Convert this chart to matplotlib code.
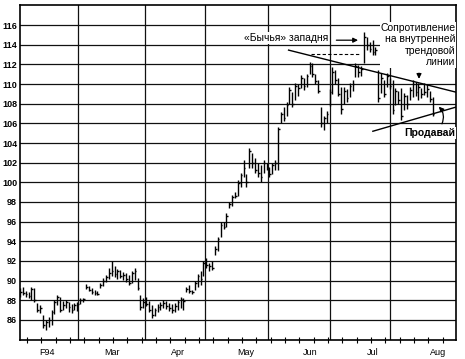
import numpy as np
import matplotlib
matplotlib.use("Agg")
import matplotlib.pyplot as plt

# ---- data (HLC bars, one per trading day) ----
highs = [89.2, 89.3, 88.9, 88.8, 89.3, 89.2, 87.7, 87.5, 86.5, 86.0,
         86.3, 87.0, 88.0, 88.5, 88.3, 87.9, 88.0, 87.8, 87.6, 87.7,
         87.8, 88.2, 88.2, 89.7, 89.4, 89.2, 89.0, 88.9, 89.8, 90.3,
         90.6, 91.3, 92.0, 91.5, 91.2, 91.1, 90.9, 90.8, 90.6, 91.0,
         91.3, 90.3, 88.5, 88.2, 88.3, 87.9, 87.5, 87.2, 87.6, 87.8,
         88.0, 87.9, 87.7, 87.6, 87.7, 88.0, 88.3, 88.2, 89.3, 89.5,
         89.0, 90.0, 90.7, 91.0, 92.0, 92.3, 91.8, 92.0, 93.5, 94.4,
         96.0, 96.0, 96.9, 98.0, 98.7, 99.0, 100.2, 101.0, 102.3, 100.8,
         103.5, 103.0, 102.5, 102.0, 101.8, 102.3, 102.0, 101.6, 102.0, 102.3,
         105.6, 107.2, 107.7, 108.2, 109.7, 109.2, 110.1, 110.0, 110.9, 110.6,
         111.0, 112.2, 112.1, 111.0, 110.4, 107.7, 106.8, 107.3, 109.5, 111.7,
         111.4, 110.6, 109.7, 109.7, 109.5, 110.1, 110.4, 112.1, 111.9, 111.8,
         115.3, 114.8, 114.3, 114.5, 113.8, 111.4, 111.1, 110.4, 111.1, 110.6,
         110.4, 109.6, 109.3, 109.6, 109.1, 108.9, 109.7, 110.4, 110.2, 110.1,
         109.6, 110.1, 110.0, 109.3, 108.7]
lows = [88.3, 88.5, 88.3, 88.2, 88.0, 87.8, 86.8, 86.7, 85.2, 85.0,
        85.3, 85.5, 86.6, 87.5, 86.8, 87.0, 87.2, 86.8, 86.7, 87.0,
        86.9, 87.6, 87.8, 89.1, 88.9, 88.6, 88.5, 88.5, 89.2, 89.4,
        89.9, 90.2, 90.5, 90.4, 90.2, 90.3, 90.1, 89.9, 89.5, 89.8,
        90.1, 89.0, 87.0, 87.2, 87.4, 86.8, 86.2, 86.4, 86.8, 87.0,
        87.2, 87.1, 86.9, 86.7, 86.8, 87.0, 87.2, 87.0, 88.8, 88.7,
        88.6, 89.0, 89.3, 89.6, 90.5, 91.3, 91.0, 91.1, 92.6, 93.0,
        94.4, 95.2, 95.5, 97.4, 97.6, 98.4, 98.6, 99.5, 100.5, 99.5,
        101.5, 101.5, 101.0, 100.5, 100.0, 101.0, 101.3, 100.5, 100.8, 101.3,
        101.3, 106.0, 106.2, 106.8, 108.0, 107.7, 108.4, 108.8, 109.6, 109.4,
        109.7, 111.0, 110.7, 110.0, 109.1, 105.6, 105.3, 106.0, 107.8, 109.0,
        110.0, 108.8, 107.0, 108.0, 108.2, 108.7, 109.3, 110.7, 110.7, 110.8,
        112.1, 113.5, 113.3, 113.0, 113.0, 108.2, 109.1, 108.7, 109.7, 109.5,
        107.0, 107.9, 108.0, 106.3, 107.4, 107.5, 108.4, 108.7, 108.8, 108.4,
        108.6, 108.9, 108.7, 108.2, 106.8]
closes = [88.8, 88.7, 88.6, 88.4, 89.1, 88.0, 87.0, 87.2, 85.5, 85.8,
          86.0, 86.8, 87.8, 88.3, 87.0, 87.5, 87.8, 87.3, 87.0, 87.5,
          87.6, 88.0, 88.1, 89.3, 89.0, 88.8, 88.7, 88.6, 89.6, 90.0,
          90.4, 90.8, 91.0, 90.7, 91.0, 90.5, 90.6, 90.2, 89.8, 90.8,
          91.0, 89.2, 87.3, 87.8, 87.6, 87.0, 86.5, 87.0, 87.3, 87.5,
          87.7, 87.4, 87.2, 87.0, 87.4, 87.8, 88.1, 87.9, 89.1, 88.9,
          88.8, 89.8, 90.5, 90.2, 91.8, 91.6, 91.5, 91.3, 93.2, 94.2,
          95.7, 95.5, 96.6, 97.8, 98.5, 98.6, 99.9, 100.7, 101.5, 100.0,
          103.2, 102.0, 101.3, 101.0, 100.5, 102.0, 101.6, 100.8, 101.8, 102.0,
          105.4, 107.0, 106.5, 107.9, 109.4, 108.0, 109.8, 109.6, 110.6, 109.8,
          110.8, 111.8, 111.0, 110.3, 109.3, 106.0, 106.5, 107.0, 109.2, 111.2,
          110.4, 109.0, 107.5, 109.3, 108.6, 109.8, 110.0, 111.8, 111.2, 111.5,
          114.8, 114.0, 113.6, 113.3, 113.5, 108.6, 110.6, 109.0, 110.8, 109.8,
          107.4, 109.3, 108.4, 106.8, 108.8, 108.0, 109.4, 110.0, 109.2, 109.7,
          109.0, 109.2, 109.5, 108.5, 107.0]

month_labels = ["F94", "Mar", "Apr", "May", "Jun", "Jul", "Aug"]
month_pos = [9.4, 32.2, 55.2, 78.7, 101.4, 123.0, 145.8]
vgrid_pos = [20.3, 43.7, 64.7, 86.4, 108.0, 129.0]
yticks = list(range(86, 117, 2))

# trend lines / annotations (day, price)
upper_line = ([93.7, 152.1], [113.46, 109.18])
lower_line = ([123.1, 152.1], [105.2, 107.66])
trap_level = ([101.4, 118.9], [113.05, 113.05])

days = np.arange(len(highs))

fig = plt.figure(figsize=(4.65, 3.59), dpi=100)
ax = fig.add_axes([0.043, 0.0529, 0.9376, 0.9331])
ax.set_xlim(0, 152.1)
ax.set_ylim(83.95, 118.05)

for y in yticks:
    ax.axhline(y, color="#111111", lw=0.9, zorder=1)
for x in vgrid_pos:
    ax.axvline(x, color="#111111", lw=0.9, zorder=1)

ax.vlines(days, lows, highs, color="black", lw=1.0, zorder=3)
ax.hlines(closes, days, days + 0.6, color="black", lw=1.0, zorder=3)

ax.plot(*upper_line, color="black", lw=1.0, zorder=4)
ax.plot(*lower_line, color="black", lw=1.0, zorder=4)
ax.plot(*trap_level, color="black", lw=0.8, ls=(0, (3, 2)), zorder=4)

fam = ["Liberation Sans", "DejaVu Sans"]
ax.text(92.7, 114.68, "«Бычья» западня", ha="center", va="center",
        fontsize=7.5, family=fam, zorder=5,
        bbox=dict(fc="white", ec="none", pad=0.5))
ax.annotate("", xy=(118.9, 114.47), xytext=(109.4, 114.47),
            arrowprops=dict(arrowstyle="-|>", color="black", lw=0.9,
                            mutation_scale=7), zorder=5)
ax.text(152.0, 116.2, "Сопротивление\nна внутренней\nтрендовой\nлинии",
        ha="right", va="top", fontsize=7.5, family=fam, linespacing=1.15,
        zorder=5, bbox=dict(fc="white", ec="none", pad=0.5))
ax.annotate("", xy=(139.2, 110.25), xytext=(139.2, 111.4),
            arrowprops=dict(arrowstyle="-|>", color="black", lw=0.9,
                            mutation_scale=7), zorder=5)
ax.text(152.0, 105.0, "Продавай", ha="right", va="center", fontsize=7.5,
        fontweight="bold", family=fam, zorder=5,
        bbox=dict(fc="white", ec="none", pad=0.5))
ax.annotate("", xy=(145.4, 107.9), xytext=(146.8, 105.7),
            arrowprops=dict(arrowstyle="-|>", color="black", lw=0.9,
                            mutation_scale=7,
                            connectionstyle="arc3,rad=0.4"), zorder=5)

ax.set_yticks(yticks)
ax.set_yticklabels([str(v) for v in yticks], fontsize=6.5, fontweight="bold",
                   family=fam)
ax.tick_params(axis="y", length=0, pad=2)
ax.set_xticks(month_pos)
ax.set_xticklabels(month_labels, fontsize=6.5, family=fam)
ax.tick_params(axis="x", which="major", length=0, pad=6)
ax.set_xticks(np.arange(2.4, 152, 5), minor=True)
ax.tick_params(axis="x", which="minor", direction="inout", length=5, width=0.8)

for s in ax.spines.values():
    s.set_color("black")
    s.set_linewidth(1.2)

fig.savefig("out.png", dpi=100, facecolor="white")
